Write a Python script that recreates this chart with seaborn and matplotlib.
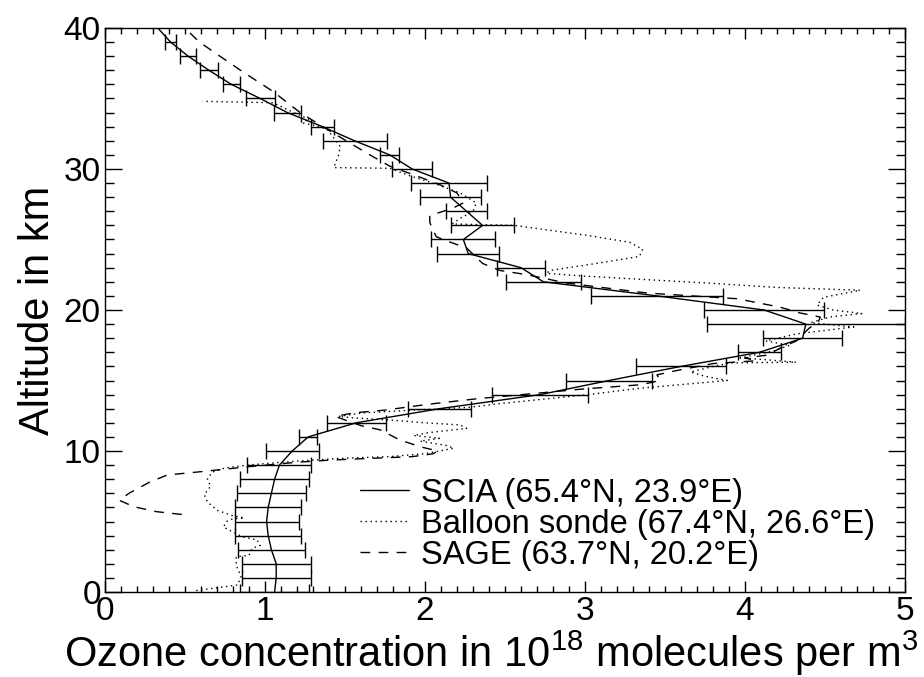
import numpy as np
import pandas as pd
import matplotlib
matplotlib.use("Agg")
import matplotlib.pyplot as plt
import seaborn as sns

# ---------------- data ----------------
scia_alt = list(range(0, 41))
scia_o3 = [1.06, 1.07, 1.07, 1.04, 1.02, 1.01, 1.02, 1.04, 1.06, 1.09,
           1.17, 1.27, 1.57, 2.09, 2.72, 3.15, 3.60, 4.09, 4.36, 4.38,
           4.12, 3.45, 2.74, 2.60, 2.27, 2.24, 2.36, 2.26, 2.16, 2.15,
           1.92, 1.78, 1.56, 1.36, 1.14, 0.97, 0.79, 0.65, 0.52, 0.41,
           0.33]
scia_err = [0.215, 0.215, 0.215, 0.21, 0.205, 0.20, 0.205, 0.215, 0.215, 0.20,
            0.165, 0.055, 0.185, 0.195, 0.30, 0.27, 0.28, 0.135, 0.245, 0.62,
            0.375, 0.41, 0.235, 0.15, 0.195, 0.20, 0.195, 0.13, 0.19, 0.24,
            0.125, 0.06, 0.20, 0.07, 0.085, 0.09, 0.055, 0.055, 0.05, 0.035]

sonde_alt = [0.1, 0.5, 1.1, 1.9, 2.5, 2.6, 3.1, 3.3, 3.7, 3.9,
             4.2, 4.6, 5.0, 5.2, 5.25, 5.4, 5.8, 6.4, 6.9, 7.5,
             8.0, 8.5, 8.8, 9.0, 9.2, 9.36, 9.5, 9.6, 9.8, 9.95,
             10.2, 10.4, 10.7, 10.9, 11.1, 11.3, 11.6, 11.85, 12.0, 12.2,
             12.35, 12.45, 12.7, 12.9, 13.1, 13.4, 14.0, 14.45, 15.0, 15.3,
             15.6, 16.0, 16.25, 16.3, 16.5, 16.6, 17.1, 17.5, 17.8, 18.3,
             18.8, 19.1, 19.5, 19.75, 20.0, 20.35, 20.9, 21.4, 21.6, 21.9,
             22.15, 22.4, 22.6, 22.8, 23.3, 23.8, 24.3, 24.8, 25.3, 25.7,
             26.0, 26.1, 26.5, 27.0, 27.6, 28.3, 29.0, 29.5, 30.05, 30.1,
             31.0, 31.6, 32.2, 32.8, 33.1, 33.3, 33.5, 34.0, 34.7, 34.8]
sonde_o3 = [0.57, 0.83, 0.85, 0.82, 0.82, 0.90, 0.92, 0.97, 0.95, 0.86,
            0.81, 0.74, 0.76, 0.80, 0.87, 0.80, 0.70, 0.64, 0.62, 0.66,
            0.64, 0.67, 0.75, 0.89, 1.10, 1.30, 1.51, 1.78, 1.99, 2.07,
            2.18, 2.13, 1.97, 2.09, 1.93, 2.02, 2.26, 2.22, 2.00, 1.78,
            1.55, 1.46, 1.61, 1.93, 2.28, 2.50, 3.02, 3.34, 3.89, 3.75,
            3.66, 3.80, 3.91, 4.32, 4.10, 3.97, 4.18, 4.28, 4.13, 4.32,
            4.68, 4.41, 4.53, 4.73, 4.55, 4.45, 4.49, 4.72, 4.20, 3.78,
            3.39, 3.00, 2.76, 2.78, 3.07, 3.34, 3.36, 3.28, 3.01, 2.75,
            2.56, 2.17, 2.22, 2.30, 2.32, 2.22, 2.05, 1.91, 1.78, 1.43,
            1.46, 1.47, 1.43, 1.39, 1.31, 1.22, 1.28, 1.18, 1.05, 0.61]

sage_alt = [5.5, 5.7, 6.05, 6.5, 7.0, 7.8, 8.3, 8.5, 8.9, 9.2,
            9.35, 9.45, 9.6, 9.8, 10.0, 10.3, 10.8, 11.5, 11.8, 12.2,
            12.45, 12.7, 12.9, 13.3, 13.7, 14.4, 14.7, 15.0, 15.4, 15.7,
            16.2, 16.4, 16.6, 16.8, 17.3, 17.8, 18.7, 19.2, 19.5, 19.8,
            20.2, 20.8, 21.2, 21.9, 22.5, 22.8, 23.3, 24.4, 24.8, 25.2,
            25.7, 26.2, 26.7, 27.2, 27.6, 28.3, 28.9, 29.5, 30.2, 31.1,
            32.8, 34.0, 35.5, 36.9, 39.0, 40.1]
sage_o3 = [0.48, 0.32, 0.18, 0.09, 0.15, 0.28, 0.39, 0.57, 0.91, 1.20,
           1.40, 1.60, 1.92, 2.05, 2.08, 1.97, 1.84, 1.72, 1.60, 1.50,
           1.44, 1.55, 1.75, 2.01, 2.32, 2.99, 3.35, 3.47, 3.45, 3.57,
           3.80, 4.07, 4.00, 4.14, 4.22, 4.32, 4.40, 4.46, 4.47, 4.34,
           4.22, 3.95, 3.39, 2.89, 2.64, 2.47, 2.36, 2.26, 2.16, 2.07,
           2.05, 2.03, 2.03, 2.17, 2.24, 2.20, 2.09, 1.95, 1.78, 1.64,
           1.39, 1.22, 1.05, 0.86, 0.59, 0.49]

labels = ["SCIA (65.4°N, 23.9°E)",
          "Balloon sonde (67.4°N, 26.6°E)",
          "SAGE (63.7°N, 20.2°E)"]

# ---------------- style ----------------
sns.set_theme(style="ticks")
plt.rcParams["font.family"] = ["Liberation Sans", "DejaVu Sans"]
plt.rcParams["mathtext.fontset"] = "custom"
plt.rcParams["mathtext.rm"] = "Liberation Sans"
for k in ["text.color", "axes.labelcolor", "xtick.color", "ytick.color",
          "axes.edgecolor"]:
    plt.rcParams[k] = "black"

fig = plt.figure(figsize=(9.24, 6.77), dpi=100)
ax = fig.add_axes([105 / 924, 1 - 592 / 677, 800 / 924, 564 / 677])

scia_df = pd.DataFrame({"o3": scia_o3, "alt": scia_alt})
sonde_df = pd.DataFrame({"o3": sonde_o3, "alt": sonde_alt})
sage_df = pd.DataFrame({"o3": sage_o3, "alt": sage_alt})

sns.lineplot(data=scia_df, x="o3", y="alt", sort=False, estimator=None,
             color="black", lw=1.0, ax=ax, label=labels[0])
sns.lineplot(data=sonde_df, x="o3", y="alt", sort=False, estimator=None,
             color="black", lw=1.0, ls=(0, (1, 2.6)), ax=ax, label=labels[1])
sns.lineplot(data=sage_df, x="o3", y="alt", sort=False, estimator=None,
             color="black", lw=1.0, ls=(0, (7, 6)), ax=ax, label=labels[2])

ax.errorbar(scia_o3[:40], scia_alt[:40], xerr=scia_err, fmt="none",
            ecolor="black", elinewidth=1.0, capsize=5.5, capthick=1.0)

ax.set_xlim(0, 5)
ax.set_ylim(0, 40)
ax.set_xticks([0, 1, 2, 3, 4, 5])
ax.set_yticks([0, 10, 20, 30, 40])
ax.set_xticks(np.arange(0, 5.01, 0.1), minor=True)
ax.set_yticks(np.arange(0, 40.1, 1), minor=True)

ax.tick_params(axis="both", which="both", direction="in", top=True, right=True,
               colors="black", labelcolor="black", width=1.0)
ax.tick_params(axis="x", which="major", length=8, pad=3, labelsize=24)
ax.tick_params(axis="x", which="minor", length=4.3)
ax.tick_params(axis="y", which="major", length=12, pad=3, labelsize=24)
ax.tick_params(axis="y", which="minor", length=6.5)
for s in ax.spines.values():
    s.set_linewidth(1.0)
    s.set_color("black")

ax.set_xlabel(r"Ozone concentration in 10$^{18}$ molecules per m$^{3}$",
              fontsize=30, color="black")
ax.xaxis.set_label_coords(0.482, -0.065)
ax.set_ylabel("Altitude in km", fontsize=30, labelpad=4, color="black")

leg = ax.legend(loc="center left", bbox_to_anchor=(0.319, 0.12), frameon=False,
                fontsize=23.5, handlelength=1.5, handletextpad=0.35,
                labelspacing=0.0, borderpad=0, borderaxespad=0)
for t in leg.get_texts():
    t.set_color("black")

fig.savefig("out.png", dpi=100)
